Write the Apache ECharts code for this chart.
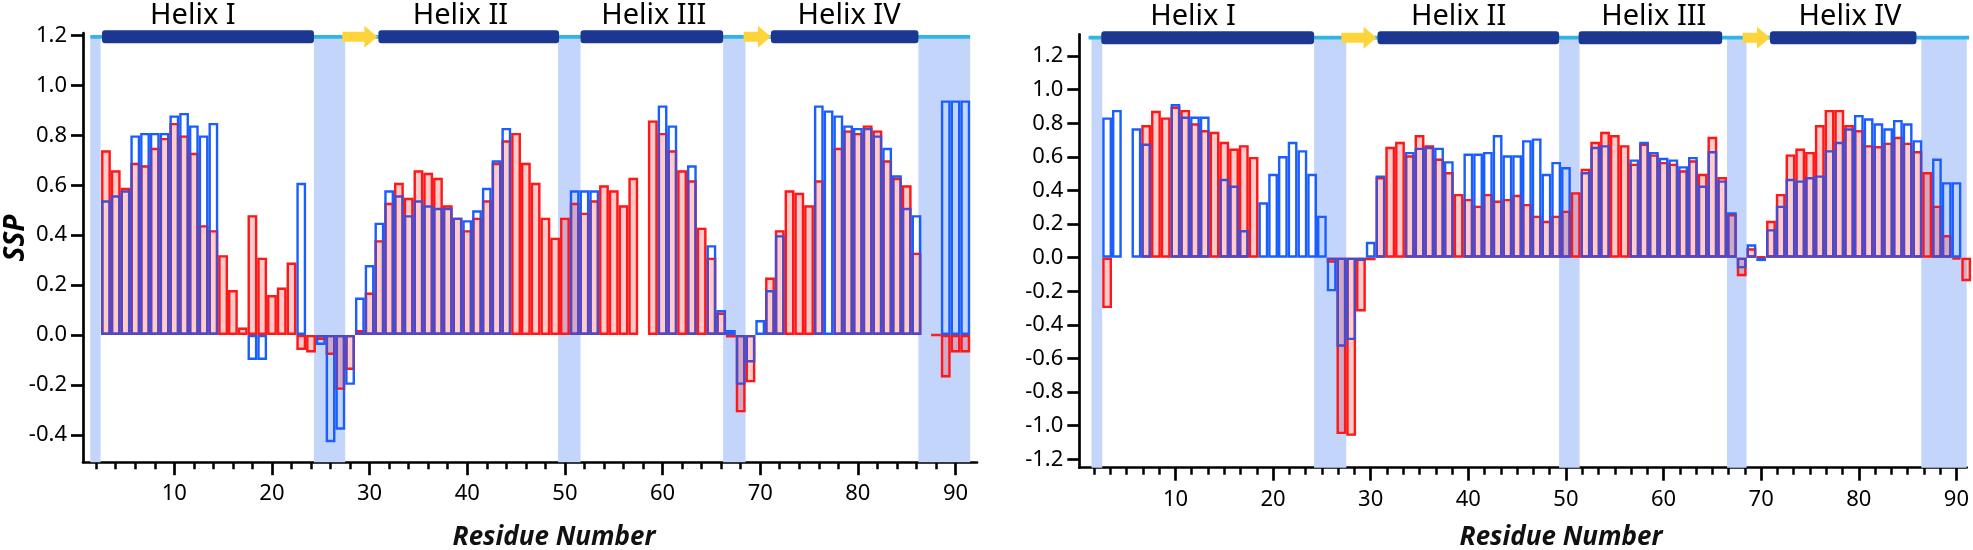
<!DOCTYPE html>
<html><head><meta charset="utf-8">
<script src="https://cdn.jsdelivr.net/npm/echarts@6/dist/echarts.min.js"></script>
<style>html,body{margin:0;padding:0;background:#fff}#c{width:1973px;height:550px}</style>
</head><body><div id="c"></div>
<script>
// residue numbers 1..91 (category index for each bar)
const residues = Array.from({length: 91}, (_, i) => i + 1);

// ---- Left panel SSP values (index 0 = residue 1) ----
const leftRed = [null,null,0.74,0.66,0.59,0.69,0.68,0.75,0.79,0.85,
  0.80,0.73,0.44,0.42,0.32,0.18,0.03,0.48,0.31,0.16,
  0.19,0.29,-0.06,-0.07,-0.02,-0.08,-0.22,-0.14,0.02,0.17,
  0.38,0.53,0.61,0.55,0.66,0.65,0.63,0.52,0.47,0.42,
  0.47,0.54,0.69,0.78,0.81,0.69,0.61,0.47,0.39,0.47,
  0.53,0.49,0.54,0.60,0.58,0.52,0.63,null,0.86,0.81,
  0.74,0.66,0.62,0.43,0.31,0.09,-0.01,-0.31,-0.19,null,
  0.23,0.42,0.58,0.57,0.52,0.62,null,0.75,0.82,0.81,
  0.84,0.82,0.70,0.63,0.60,0.33,null,0,-0.17,-0.07,
  -0.07];
const leftBlue = [null,null,0.54,0.56,0.58,0.80,0.81,0.81,0.81,0.88,
  0.89,0.84,0.80,0.85,null,null,null,-0.10,-0.10,null,
  null,null,0.61,null,-0.04,-0.43,-0.38,-0.20,0.15,0.28,
  0.45,0.58,0.56,0.48,0.54,0.52,0.51,0.51,0.47,0.46,
  0.50,0.59,0.70,0.83,null,null,null,null,null,null,
  0.58,0.58,0.58,null,null,null,null,null,null,0.92,
  0.84,null,0.68,null,0.36,0.10,0.02,-0.20,-0.11,0.06,
  0.18,0.40,null,null,null,0.92,0.90,0.88,0.84,0.83,
  0.83,0.80,0.75,0.64,0.51,0.48,null,null,0.94,0.94,
  0.94];

// ---- Right panel SSP values ----
const rightRed = [null,null,-0.30,null,null,null,0.79,0.875,0.835,0.90,
  0.88,0.80,0.76,0.75,0.69,0.65,0.67,0.60,null,null,
  null,null,null,null,null,-0.03,-1.05,-1.06,-0.32,-0.015,
  0.48,0.66,0.69,0.61,0.73,0.67,0.59,0.51,0.38,0.35,
  0.31,0.38,0.34,0.35,0.375,0.32,0.25,0.22,0.25,0.28,
  0.39,0.53,0.69,0.75,0.73,0.67,0.56,0.68,0.615,0.57,
  0.56,0.52,0.58,0.50,0.72,0.48,0.26,-0.11,0.056,0.006,
  0.22,0.38,0.615,0.65,0.63,0.79,0.88,0.88,0.79,0.76,
  0.67,0.665,0.685,0.72,0.685,0.635,0.51,0.31,0.135,-0.01,
  -0.14];
const rightBlue = [null,null,0.835,0.88,null,0.77,0.68,null,null,0.915,
  0.84,0.84,0.84,null,0.47,0.43,0.165,null,0.33,0.50,
  0.605,0.69,0.64,0.50,0.25,-0.20,-0.53,-0.49,-0.02,0.095,
  0.49,null,null,0.63,0.655,0.66,0.655,0.575,null,0.62,
  0.62,0.63,0.73,0.61,0.61,0.70,0.71,0.50,0.57,0.54,
  null,0.51,0.66,0.67,null,null,0.585,0.69,0.63,0.595,
  0.585,0.545,0.60,0.43,0.635,0.46,0.27,-0.063,0.08,-0.02,
  0.17,0.31,0.47,0.46,0.48,0.49,0.64,0.69,0.77,0.85,
  0.83,0.80,0.77,0.82,0.80,0.70,null,0.59,0.45,0.45,
  null];

// ---- Secondary structure (residue ranges) ----
const helixNames = ['Helix I', 'Helix II', 'Helix III', 'Helix IV'];
const leftHelices = [[2.6, 24.3], [30.9, 49.4], [51.6, 66.2], [71.1, 86.2]];
const leftStrands = [[27.2, 30.8], [68.3, 71.1]];
const leftCoil = [1.4, 91.5];
const leftLabelX = [11.9, 39.3, 59.1, 79.1];
const rightHelices = [[2.4, 24.2], [30.7, 49.3], [51.3, 66.0], [70.9, 85.9]];
const rightStrands = [[27.0, 30.6], [68.1, 70.9]];
const rightCoil = [1.1, 91.3];
const rightLabelX = [11.8, 39.0, 59.0, 79.1];
// shaded (non-helical) residue ranges
const leftShade = [[1.4, 2.45], [24.3, 27.5], [49.3, 51.6], [66.2, 68.5], [86.2, 91.5]];
const rightShade = [[1.4, 2.5], [24.2, 27.5], [49.3, 51.4], [66.5, 68.5], [86.4, 91.2]];

// ---- Axis ticks ----
const xMajor = [10, 20, 30, 40, 50, 60, 70, 80, 90];
const leftMinor = [2,4,6,8,12,14,16,18,22,24,26,28,32,34,36,38,42,44,46,48,52,54,56,58,62,64,66,68,72,74,76,78,82,84,86,88];
const rightMinor = [];
for (let k = 1; k <= 54; k++) { if (k % 6 !== 0) rightMinor.push(k * 10 / 6); }
const leftYTicks = [-0.4, -0.2, 0, 0.2, 0.4, 0.6, 0.8, 1.0, 1.2];
const rightYTicks = [-1.2, -1.0, -0.8, -0.6, -0.4, -0.2, 0, 0.2, 0.4, 0.6, 0.8, 1.0, 1.2];

const FONT = 'Noto Sans';
const panels = [
  {red: leftRed, blue: leftBlue, helices: leftHelices, strands: leftStrands, coil: leftCoil,
   labelX: leftLabelX, shade: leftShade, minor: leftMinor, yTicks: leftYTicks,
   xMin: 0.65, xMax: 92.2, yMin: -0.51, yMax: 1.21, trackY: 1.195,
   grid: {left: 83, top: 33.1, width: 894, height: 429.1}},
  {red: rightRed, blue: rightBlue, helices: rightHelices, strands: rightStrands, coil: rightCoil,
   labelX: rightLabelX, shade: rightShade, minor: rightMinor, yTicks: rightYTicks,
   xMin: 0.15, xMax: 91.05, yMin: -1.25, yMax: 1.33, trackY: 1.31,
   grid: {left: 1079.3, top: 34.3, width: 887.4, height: 433.4}}
];

const grids = [], xAxes = [], yAxes = [], series = [];
const axisColor = '#000';
panels.forEach((p, gi) => {
  grids.push(Object.assign({containLabel: false}, p.grid));
  xAxes.push({
    gridIndex: gi, type: 'value', min: p.xMin, max: p.xMax, position: 'bottom',
    axisLine: {show: true, onZero: false, lineStyle: {color: axisColor, width: 2.7}},
    axisTick: {show: true, customValues: p.minor, length: 7, lineStyle: {color: axisColor, width: 2.5}},
    axisLabel: {show: false}, splitLine: {show: false}
  });
  xAxes.push({
    gridIndex: gi, type: 'value', min: p.xMin, max: p.xMax, position: 'bottom',
    axisLine: {show: false, onZero: false},
    axisTick: {show: true, customValues: xMajor, length: 13, lineStyle: {color: axisColor, width: 2.7}},
    axisLabel: {show: true, customValues: xMajor, margin: 21, fontSize: 22, fontFamily: FONT, color: '#000'},
    splitLine: {show: false}
  });
  yAxes.push({
    gridIndex: gi, type: 'value', min: p.yMin, max: p.yMax,
    axisLine: {show: true, onZero: false, lineStyle: {color: axisColor, width: 2.7}},
    axisTick: {show: true, customValues: p.yTicks, length: 12, lineStyle: {color: axisColor, width: 2.7}},
    axisLabel: {show: true, customValues: p.yTicks, margin: 16, fontSize: 22, fontFamily: FONT, color: '#000',
      formatter: v => (Math.abs(v) < 1e-9 ? 0 : v).toFixed(1)},
    splitLine: {show: false}
  });
  const toData = vals => {
    const d = [];
    vals.forEach((v, i) => { if (v !== null) d.push([residues[i], v]); });
    return d;
  };
  const redData = toData(p.red), blueData = toData(p.blue);
  const common = {type: 'bar', xAxisIndex: gi * 2, yAxisIndex: gi, barWidth: '100%', barGap: '-100%',
    clip: false, silent: true, animation: false};
  // red outlines (with shaded regions as markArea behind)
  series.push(Object.assign({}, common, {
    name: 'redOutline' + gi, data: redData, z: 2,
    itemStyle: {color: 'rgba(0,0,0,0)', borderColor: '#FF1F1F', borderWidth: 2.4},
    markArea: {silent: true, z: 1, label: {show: false},
      itemStyle: {color: '#C3D5FB', opacity: 1, borderWidth: 0},
      data: p.shade.map(s => [{xAxis: s[0], yAxis: p.yMin}, {xAxis: s[1], yAxis: p.trackY}])}
  }));
  // blue outlines
  series.push(Object.assign({}, common, {
    name: 'blue' + gi, data: blueData, z: 3,
    itemStyle: {color: 'rgba(0,0,0,0)', borderColor: '#1A5EFF', borderWidth: 2.4}
  }));
  // translucent pink fill of red bars on top
  series.push(Object.assign({}, common, {
    name: 'redFill' + gi, data: redData, z: 4,
    itemStyle: {color: 'rgba(255,0,0,0.2)', borderWidth: 0}
  }));
  // secondary structure track
  const track = [[p.coil[0], p.coil[1], 0]];
  p.helices.forEach(h => track.push([h[0], h[1], 1]));
  p.strands.forEach(s => track.push([s[0], s[1], 2]));
  const ty = p.trackY;
  series.push({
    type: 'custom', xAxisIndex: gi * 2, yAxisIndex: gi, clip: false, silent: true, z: 6, animation: false,
    data: track,
    renderItem: (params, api) => {
      const a = api.coord([api.value(0), ty]);
      const b = api.coord([api.value(1), ty]);
      const k = api.value(2);
      if (k === 0) return {type: 'rect', shape: {x: a[0], y: a[1] - 1.8, width: b[0] - a[0], height: 3.6}, style: {fill: '#2FB6E6'}};
      if (k === 1) return {type: 'rect', shape: {x: a[0], y: a[1] - 6.5, width: b[0] - a[0], height: 13, r: 3}, style: {fill: '#1B3791'}};
      const hx = b[0] - 13;
      return {type: 'polygon', shape: {points: [[a[0], a[1] - 5], [hx, a[1] - 5], [hx, a[1] - 11], [b[0], a[1]], [hx, a[1] + 11], [hx, a[1] + 5], [a[0], a[1] + 5]]},
        style: {fill: '#FFD43B'}};
    }
  });
  // helix labels
  series.push({
    type: 'custom', xAxisIndex: gi * 2, yAxisIndex: gi, clip: false, silent: true, z: 6, animation: false,
    data: p.labelX.map((x, i) => [x, i]),
    renderItem: (params, api) => {
      const c = api.coord([api.value(0), ty]);
      return {type: 'text', x: c[0], y: c[1] - 21,
        style: {text: helixNames[api.value(1)], fontSize: 29, fontFamily: FONT, fill: '#000', align: 'center', verticalAlign: 'middle'}};
    }
  });
});

const chart = echarts.init(document.getElementById('c'), null, {renderer: 'canvas'});
chart.setOption({
  animation: false,
  backgroundColor: '#fff',
  grid: grids, xAxis: xAxes, yAxis: yAxes, series: series,
  graphic: [
    {type: 'text', x: 16, y: 238, rotation: Math.PI / 2,
     style: {text: 'SSP', fontSize: 28, fontWeight: 'bold', fontStyle: 'italic', fontFamily: FONT, fill: '#000', align: 'center', verticalAlign: 'middle'}},
    {type: 'text', x: 554, y: 538,
     style: {text: 'Residue Number', fontSize: 26, fontWeight: 'bold', fontStyle: 'italic', fontFamily: FONT, fill: '#111', align: 'center', verticalAlign: 'middle'}},
    {type: 'text', x: 1561, y: 538,
     style: {text: 'Residue Number', fontSize: 26, fontWeight: 'bold', fontStyle: 'italic', fontFamily: FONT, fill: '#111', align: 'center', verticalAlign: 'middle'}}
  ]
});
</script>
</body></html>
